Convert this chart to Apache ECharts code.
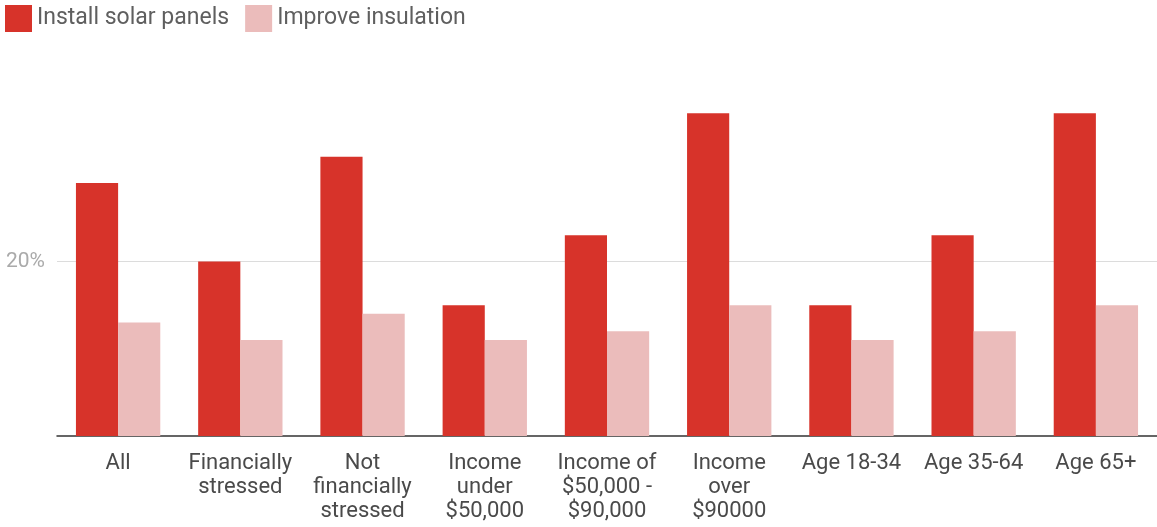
<!DOCTYPE html>
<html><head><meta charset="utf-8">
<script src="https://cdn.jsdelivr.net/npm/echarts@6/dist/echarts.min.js"></script>
<style>html,body{margin:0;padding:0;background:#fff}#c{width:1157px;height:527px}</style>
</head><body><div id="c"></div>
<script>
const categories = ['All','Financially\nstressed','Not\nfinancially\nstressed','Income\nunder\n$50,000','Income of\n$50,000 -\n$90,000','Income\nover\n$90000','Age 18-34','Age 35-64','Age 65+'];
const solar = [29, 20, 32, 15, 23, 37, 15, 23, 37];
const insulation = [13, 11, 14, 11, 12, 15, 11, 12, 15];
const seriesNames = ['Install solar panels','Improve insulation'];

const chart = echarts.init(document.getElementById('c'));
chart.setOption({
  animation: false,
  textStyle: {fontFamily: 'Roboto'},
  legend: {
    left: 0, top: 0, itemWidth: 27, itemHeight: 27, itemGap: 16,
    icon: 'rect',
    textStyle: {fontSize: 23, color: '#5f5f5f', fontFamily: 'Roboto'}
  },
  grid: {left: 57, right: 0, top: 87, bottom: 91, containLabel: false},
  xAxis: {
    type: 'category', data: categories,
    axisLine: {lineStyle: {color: '#333', width: 1.5}},
    axisTick: {show: false},
    axisLabel: {fontSize: 22, color: '#4a4a4a', lineHeight: 24, margin: 15, interval: 0, fontFamily: 'Roboto'}
  },
  yAxis: {
    type: 'value', min: 0, max: 40, interval: 20,
    axisLine: {show: false}, axisTick: {show: false},
    axisLabel: {
      fontSize: 21, color: '#aaa', margin: 12,
      formatter: v => v === 20 ? v + '%' : ''
    },
    splitLine: {lineStyle: {color: ['rgba(0,0,0,0)', '#dcdcdc', 'rgba(0,0,0,0)'], width: 1}}
  },
  series: [
    {name: seriesNames[0], type: 'bar', data: solar, itemStyle: {color: '#d7332a'}, barGap: '0%', barCategoryGap: '31%'},
    {name: seriesNames[1], type: 'bar', data: insulation, itemStyle: {color: '#ebbcbb'}}
  ]
});
</script></body></html>
